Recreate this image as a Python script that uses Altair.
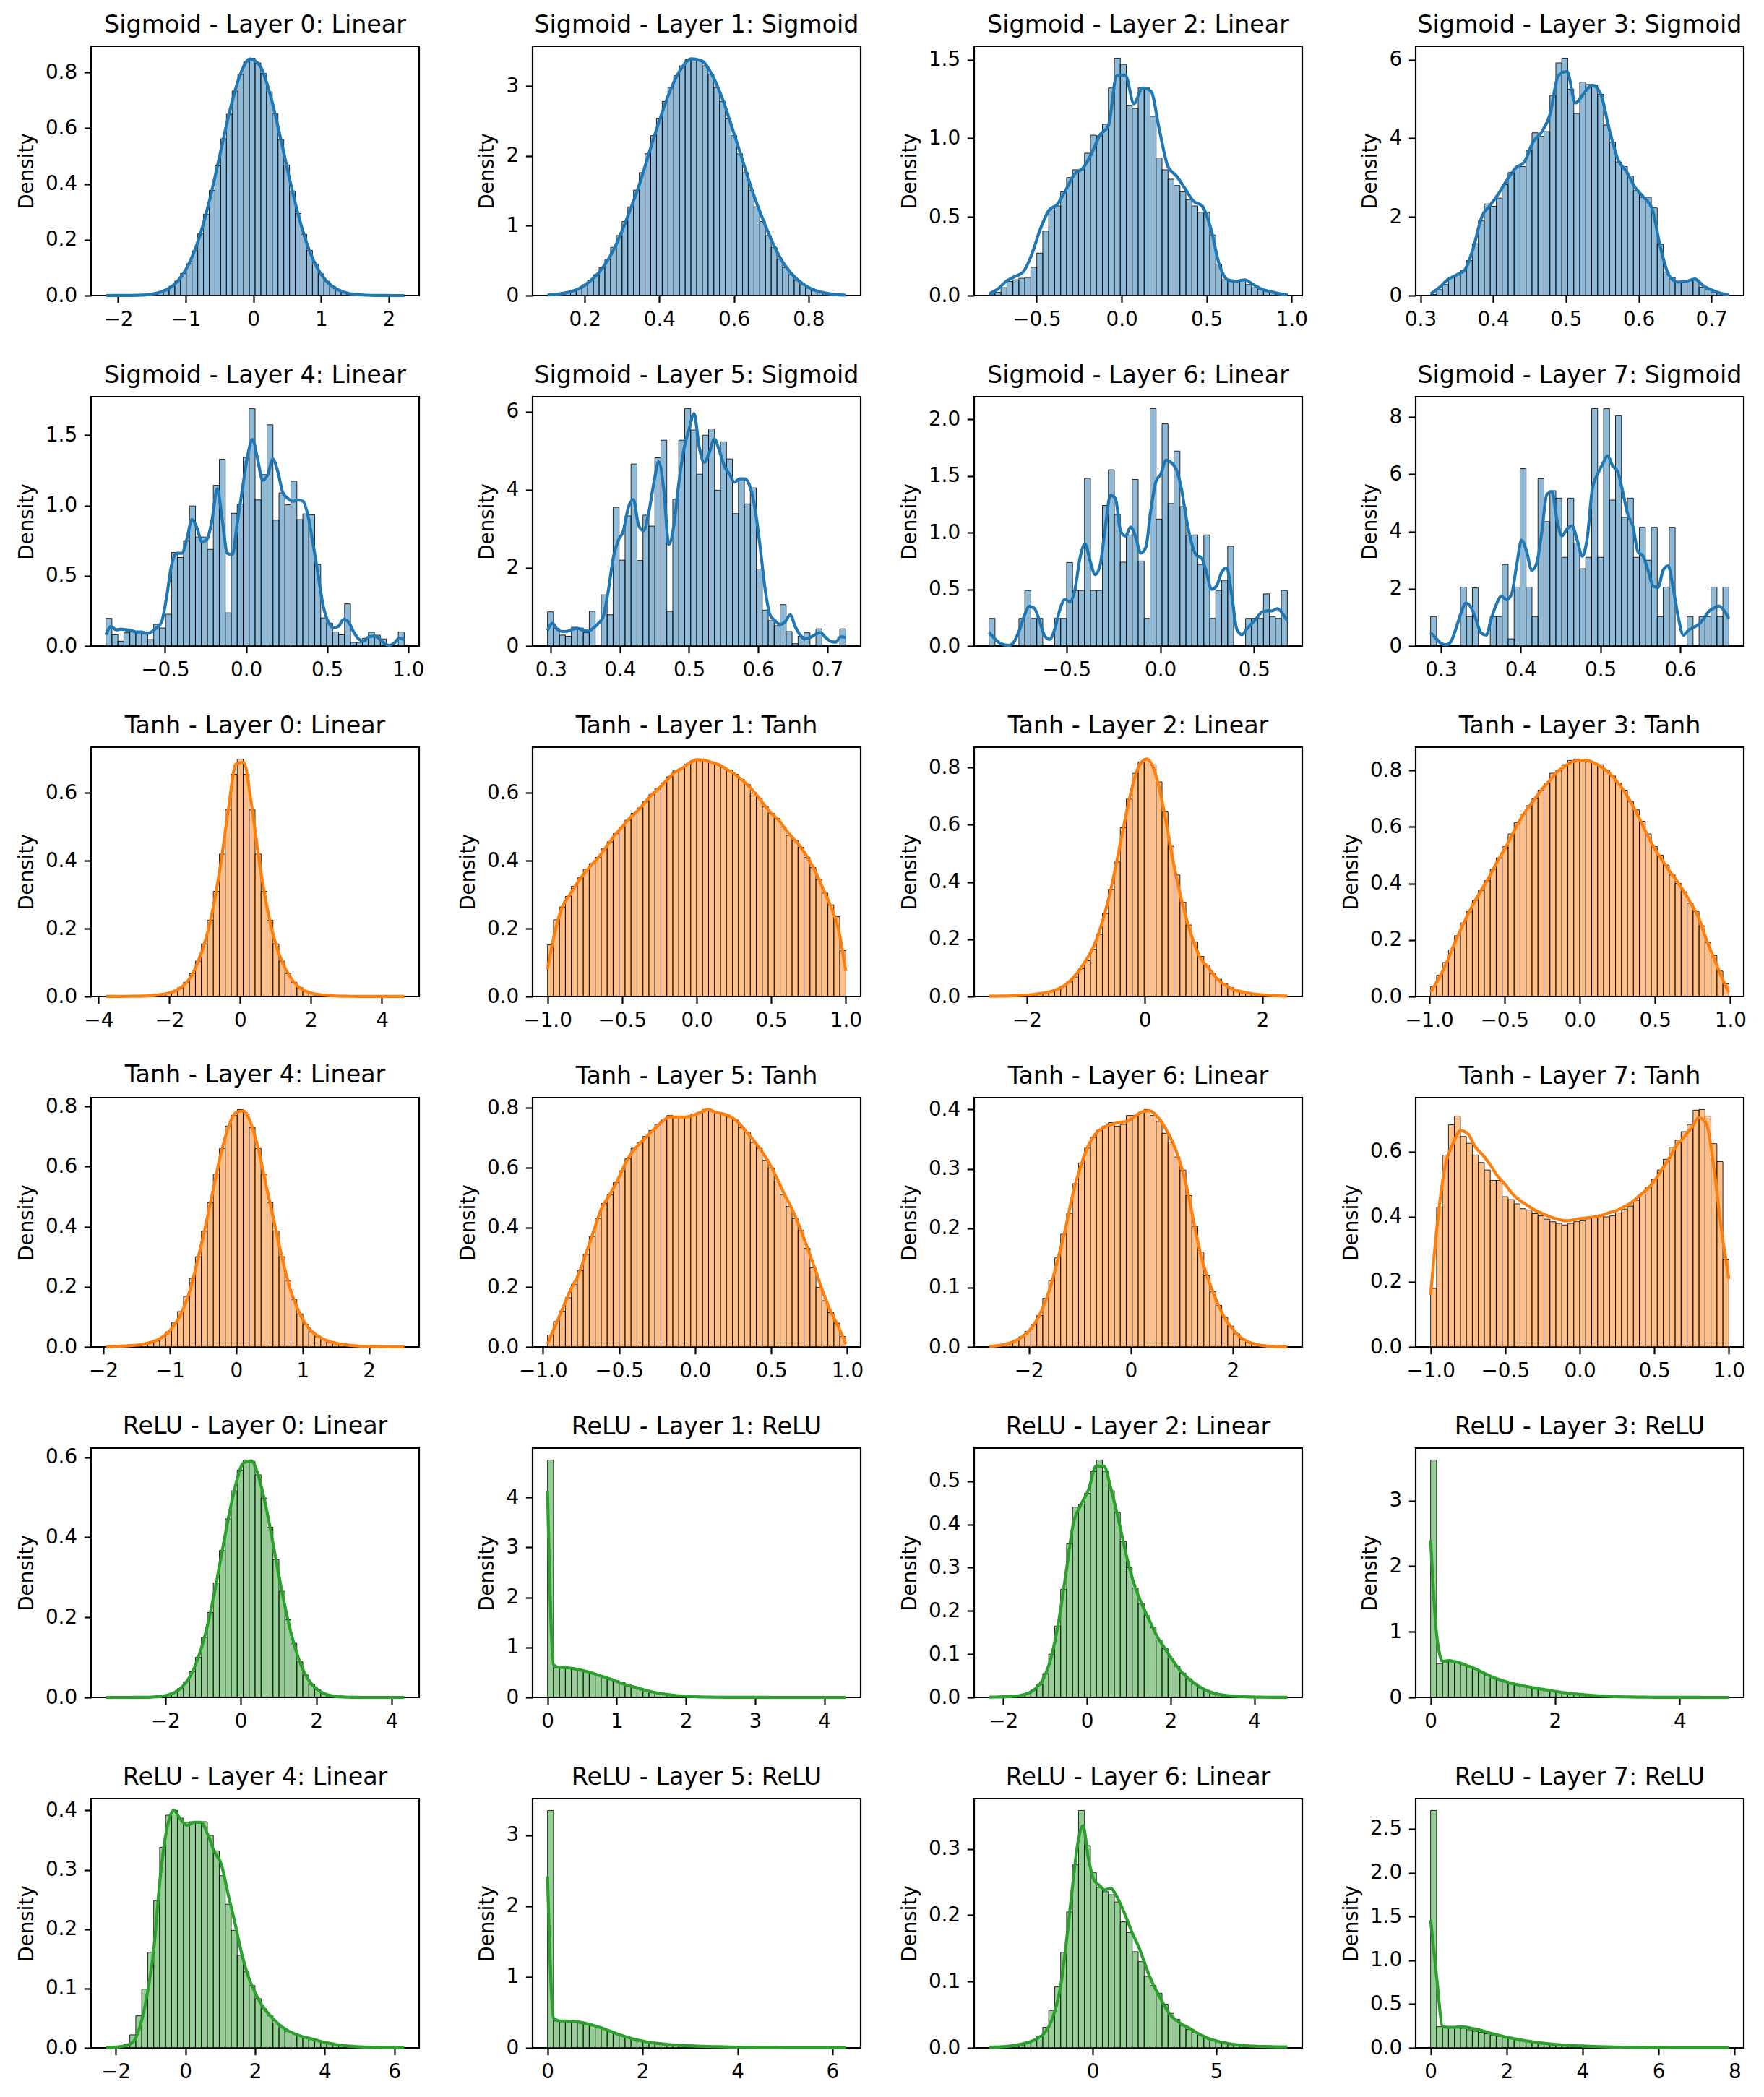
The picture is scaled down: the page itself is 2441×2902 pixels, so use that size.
import altair as alt
import pandas as pd

BLUE = "#1f77b4"
ORANGE = "#ff7f0e"
GREEN = "#2ca02c"
COLORS = [BLUE, ORANGE, GREEN]

TITLES = [
    "Sigmoid - Layer 0: Linear", "Sigmoid - Layer 1: Sigmoid", "Sigmoid - Layer 2: Linear", "Sigmoid - Layer 3: Sigmoid",
    "Sigmoid - Layer 4: Linear", "Sigmoid - Layer 5: Sigmoid", "Sigmoid - Layer 6: Linear", "Sigmoid - Layer 7: Sigmoid",
    "Tanh - Layer 0: Linear", "Tanh - Layer 1: Tanh", "Tanh - Layer 2: Linear", "Tanh - Layer 3: Tanh",
    "Tanh - Layer 4: Linear", "Tanh - Layer 5: Tanh", "Tanh - Layer 6: Linear", "Tanh - Layer 7: Tanh",
    "ReLU - Layer 0: Linear", "ReLU - Layer 1: ReLU", "ReLU - Layer 2: Linear", "ReLU - Layer 3: ReLU",
    "ReLU - Layer 4: Linear", "ReLU - Layer 5: ReLU", "ReLU - Layer 6: Linear", "ReLU - Layer 7: ReLU",
]

# ---------------- Sigmoid network ----------------
S0_RANGE = (-2.18, 2.23)
S0_BARS = [0.0003, 0.0005, 0.0006, 0.001, 0.0012, 0.002, 0.003, 0.005, 0.008, 0.013,
           0.021, 0.033, 0.052, 0.079, 0.114, 0.16, 0.222, 0.292, 0.377, 0.465,
           0.562, 0.65, 0.733, 0.793, 0.837, 0.851, 0.834, 0.796, 0.73, 0.652,
           0.559, 0.468, 0.375, 0.294, 0.22, 0.162, 0.113, 0.078, 0.051, 0.033,
           0.02, 0.013, 0.008, 0.005, 0.003, 0.002, 0.0012, 0.001, 0.0006, 0.0005,
           0.0003, 0.0003]
S0_KDE = [0.0, 0.0001, 0.0003, 0.001, 0.003, 0.009, 0.023, 0.053, 0.109, 0.2,
          0.331, 0.491, 0.656, 0.787, 0.848, 0.822, 0.716, 0.56, 0.394, 0.249,
          0.141, 0.072, 0.033, 0.014, 0.005, 0.002, 0.0005, 0.0001, 0.0, 0.0]

S1_RANGE = (0.10, 0.90)
S1_BARS = [0.01, 0.018, 0.03, 0.045, 0.07, 0.105, 0.155, 0.22, 0.30, 0.40,
           0.52, 0.69, 0.86, 1.06, 1.27, 1.51, 1.76, 2.03, 2.29, 2.54,
           2.78, 2.98, 3.15, 3.29, 3.38, 3.40, 3.36, 3.29, 3.17, 2.98,
           2.78, 2.54, 2.29, 2.03, 1.76, 1.51, 1.27, 1.06, 0.86, 0.69,
           0.52, 0.40, 0.30, 0.22, 0.155, 0.105, 0.07, 0.045, 0.03, 0.018,
           0.01, 0.006]
S1_KDE = [0.008, 0.02, 0.045, 0.095, 0.19, 0.33, 0.54, 0.84, 1.21, 1.62,
          2.10, 2.56, 2.96, 3.25, 3.39, 3.36, 3.16, 2.82, 2.38, 1.92,
          1.46, 1.07, 0.72, 0.45, 0.27, 0.15, 0.075, 0.035, 0.014, 0.005]

S2_RANGE = (-0.78, 0.975)
S2_BARS = [0.01, 0.02, 0.05, 0.09, 0.10, 0.11, 0.115, 0.18, 0.27, 0.41,
           0.545, 0.57, 0.66, 0.75, 0.80, 0.80, 0.905, 1.02, 1.015, 1.09,
           1.32, 1.51, 1.47, 1.21, 1.19, 1.32, 1.32, 1.14, 0.875, 0.80,
           0.74, 0.70, 0.66, 0.61, 0.57, 0.53, 0.53, 0.385, 0.20, 0.10,
           0.10, 0.095, 0.10, 0.07, 0.05, 0.04, 0.03, 0.02, 0.01, 0.01]
S2_KDE = [0.01, 0.04, 0.09, 0.12, 0.15, 0.26, 0.42, 0.54, 0.58, 0.67,
          0.77, 0.81, 0.90, 1.02, 1.08, 1.40, 1.40, 1.22, 1.32, 1.30,
          1.05, 0.82, 0.76, 0.68, 0.60, 0.57, 0.43, 0.20, 0.10, 0.09,
          0.10, 0.07, 0.04, 0.025, 0.012, 0.004]

S3_RANGE = (0.314, 0.724)
S3_BARS = [0.03, 0.15, 0.28, 0.46, 0.52, 0.64, 0.89, 1.32, 1.9, 2.33,
           2.27, 2.48, 2.82, 3.13, 3.25, 3.28, 3.68, 4.14, 4.05, 4.17,
           5.09, 5.92, 6.04, 5.25, 4.63, 5.43, 5.37, 5.35, 5.12, 4.34,
           3.9, 3.40, 3.28, 3.04, 2.67, 2.5, 2.5, 2.23, 1.3, 0.6,
           0.46, 0.35, 0.35, 0.38, 0.40, 0.21, 0.15, 0.09, 0.06, 0.03]
S3_KDE = [0.04, 0.2, 0.4, 0.52, 0.65, 1.2, 2.0, 2.3, 2.6, 2.95,
          3.25, 3.4, 3.9, 4.15, 4.6, 5.6, 5.7, 4.9, 5.15, 5.35,
          5.1, 4.2, 3.45, 3.15, 2.75, 2.5, 2.2, 1.2, 0.5, 0.34,
          0.36, 0.42, 0.25, 0.14, 0.06, 0.02]

S4_RANGE = (-0.865, 0.976)
S4_BARS = [0.197, 0.08, 0.034, 0.094, 0.10, 0.10, 0.10, 0.046, 0.154, 0.128,
           0.226, 0.666, 0.63, 0.75, 0.997, 0.776, 0.776, 0.688, 1.144, 1.33,
           0.236, 0.945, 1.01, 1.342, 1.69, 1.04, 1.22, 1.575, 0.896, 1.09,
           1.005, 1.173, 0.90, 0.94, 0.933, 0.58, 0.20, 0.163, 0.10, 0.08,
           0.30, 0.026, 0.026, 0.055, 0.098, 0.077, 0.05, 0.005, 0.0, 0.10]
S4_KDE = [0.08, 0.14, 0.115, 0.12, 0.115, 0.11, 0.10, 0.10, 0.09, 0.10,
          0.13, 0.17, 0.35, 0.58, 0.66, 0.66, 0.76, 0.90, 0.84, 0.74,
          0.76, 0.90, 1.12, 0.90, 0.66, 0.65, 0.88, 1.12, 1.35, 1.47,
          1.33, 1.18, 1.22, 1.33, 1.24, 1.09, 1.05, 1.03, 1.04, 1.03,
          0.92, 0.72, 0.50, 0.28, 0.17, 0.13, 0.14, 0.19, 0.17, 0.10,
          0.05, 0.035, 0.065, 0.07, 0.055, 0.02, 0.005, 0.02, 0.055, 0.045]

S5_RANGE = (0.295, 0.727)
S5_BARS = [0.875, 0.45, 0.28, 0.25, 0.48, 0.46, 0.34, 0.89, 0.02, 1.31,
           0.80, 3.55, 2.2, 3.33, 4.66, 2.19, 3.35, 3.07, 4.82, 5.27,
           0.89, 3.76, 5.27, 6.08, 5.53, 4.4, 5.4, 5.56, 3.99, 5.23,
           4.79, 3.39, 4.29, 3.64, 4.05, 1.97, 0.92, 0.65, 0.52, 1.06,
           0.37, 0.06, 0.25, 0.34, 0.02, 0.44, 0.02, 0.0, 0.0, 0.44]
S5_KDE = [0.40, 0.58, 0.42, 0.37, 0.38, 0.43, 0.45, 0.40, 0.38, 0.45,
          0.57, 0.75, 1.39, 2.25, 2.70, 2.95, 3.55, 3.75, 3.1, 2.95,
          3.4, 4.15, 4.72, 4.0, 2.6, 3.1, 4.2, 5.05, 5.55, 5.95,
          5.1, 4.7, 4.95, 5.3, 5.0, 4.6, 4.4, 4.2, 4.28, 4.28,
          4.1, 3.55, 2.6, 1.5, 0.8, 0.65, 0.55, 0.62, 0.80, 0.5,
          0.28, 0.18, 0.22, 0.30, 0.34, 0.22, 0.12, 0.10, 0.24, 0.22]

S6_RANGE = (-0.913, 0.677)
S6_BARS = [0.244, 0, 0, 0, 0, 0.244, 0.49, 0.244, 0.244, 0,
           0, 0.244, 0.244, 0.737, 0.49, 0.49, 1.48, 0.49, 0.49, 1.24,
           1.555, 1.16, 0.74, 0.98, 1.47, 0.75, 0.244, 2.095, 1.12, 1.96,
           1.257, 1.72, 1.23, 0.98, 0.98, 0.72, 0.98, 0.244, 0.49, 0.58,
           0.88, 0, 0, 0.244, 0.244, 0.244, 0.46, 0.26, 0.244, 0.49]
S6_KDE = [0.12, 0.07, 0.03, 0.01, 0.006, 0.04, 0.14, 0.27, 0.35, 0.33,
          0.22, 0.09, 0.06, 0.15, 0.32, 0.41, 0.39, 0.50, 0.78, 0.90,
          0.75, 0.63, 0.72, 1.05, 1.33, 1.30, 1.02, 0.97, 1.05, 0.96,
          0.82, 0.87, 1.2, 1.45, 1.52, 1.64, 1.62, 1.56, 1.4, 1.13,
          0.92, 0.80, 0.78, 0.65, 0.50, 0.53, 0.65, 0.69, 0.45, 0.15,
          0.10, 0.15, 0.2, 0.25, 0.30, 0.31, 0.31, 0.33, 0.29, 0.22]

S7_RANGE = (0.287, 0.661)
S7_BARS = [1.03, 0, 0, 0, 0, 2.06, 1.03, 2.03, 0, 0,
           1.03, 1.03, 2.85, 0.25, 2.06, 6.2, 2.06, 1.03, 5.85, 4.35,
           5.43, 5.17, 3.1, 5.17, 3.6, 2.7, 3.1, 8.3, 3.1, 8.3,
           5.1, 8.05, 4.5, 5.17, 3.1, 4.15, 3.0, 4.15, 1.03, 2.06,
           4.15, 0, 0, 1.03, 0, 1.03, 1.03, 2.06, 1.03, 2.06]
S7_KDE = [0.47, 0.28, 0.10, 0.04, 0.15, 0.60, 1.15, 1.50, 1.35, 0.92,
          0.45, 0.38, 0.95, 1.45, 1.74, 1.62, 1.8, 2.8, 3.7, 3.3,
          2.65, 2.9, 4.0, 5.3, 5.4, 4.4, 3.85, 4.1, 4.2, 3.7,
          3.14, 3.8, 5.5, 6.0, 6.35, 6.65, 6.3, 6.1, 5.4, 4.6,
          4.2, 3.3, 3.15, 2.65, 2.1, 2.05, 2.65, 2.8, 2.0, 1.0,
          0.38, 0.55, 0.65, 0.75, 0.95, 1.2, 1.32, 1.40, 1.25, 0.97]

# ---------------- Tanh network ----------------
T0_RANGE = (-3.79, 4.63)
T0_BARS = [0.0001, 0.0002, 0.0003, 0.0005, 0.0007, 0.001, 0.0015, 0.0025, 0.004, 0.006,
           0.01, 0.016, 0.026, 0.042, 0.067, 0.104, 0.155, 0.225, 0.31, 0.42,
           0.55, 0.655, 0.70, 0.655, 0.55, 0.42, 0.31, 0.225, 0.155, 0.104,
           0.067, 0.042, 0.026, 0.016, 0.01, 0.006, 0.004, 0.0025, 0.0015, 0.001,
           0.0007, 0.0005, 0.0003, 0.0002, 0.0001, 0.0001, 0.0001, 0.0001, 0.0001, 0.0001]
T0_KDE = [0.0002, 0.0002, 0.0003, 0.0005, 0.0008, 0.0014, 0.0025, 0.005, 0.009, 0.016,
          0.03, 0.055, 0.10, 0.165, 0.26, 0.39, 0.55, 0.685, 0.69, 0.57,
          0.405, 0.27, 0.17, 0.105, 0.06, 0.032, 0.017, 0.009, 0.005, 0.003,
          0.0016, 0.0009, 0.0005, 0.0003, 0.0002, 0.0001, 0.0001, 0.0001, 0.0001, 0.0001]

T1_RANGE = (-1.0, 1.0)
T1_BARS = [0.152, 0.226, 0.264, 0.295, 0.325, 0.35, 0.375, 0.392, 0.41, 0.435,
           0.456, 0.48, 0.50, 0.52, 0.54, 0.556, 0.575, 0.595, 0.612, 0.63,
           0.648, 0.665, 0.672, 0.685, 0.695, 0.70, 0.695, 0.69, 0.685, 0.675,
           0.668, 0.655, 0.64, 0.625, 0.60, 0.585, 0.56, 0.54, 0.525, 0.50,
           0.475, 0.46, 0.44, 0.41, 0.38, 0.345, 0.305, 0.27, 0.235, 0.135]
T1_KDE = [0.08, 0.19, 0.265, 0.30, 0.335, 0.365, 0.39, 0.415, 0.445, 0.475,
          0.50, 0.525, 0.545, 0.57, 0.595, 0.615, 0.638, 0.66, 0.672, 0.688,
          0.698, 0.697, 0.69, 0.683, 0.67, 0.657, 0.64, 0.62, 0.595, 0.567,
          0.54, 0.52, 0.49, 0.465, 0.44, 0.405, 0.365, 0.315, 0.265, 0.2,
          0.075]

T2_RANGE = (-2.64, 2.42)
T2_BARS = [0.001, 0.0012, 0.0015, 0.002, 0.003, 0.0045, 0.006, 0.008, 0.010, 0.014,
           0.018, 0.025, 0.036, 0.051, 0.068, 0.097, 0.125, 0.165, 0.217, 0.29,
           0.375, 0.47, 0.59, 0.69, 0.78, 0.82, 0.83, 0.81, 0.75, 0.645,
           0.525, 0.425, 0.33, 0.25, 0.19, 0.14, 0.11, 0.08, 0.06, 0.045,
           0.031, 0.022, 0.016, 0.011, 0.009, 0.007, 0.005, 0.0035, 0.0025, 0.0018]
T2_KDE = [0.001, 0.0012, 0.0017, 0.0027, 0.0045, 0.007, 0.011, 0.017, 0.028, 0.048,
          0.08, 0.124, 0.18, 0.27, 0.39, 0.54, 0.69, 0.80, 0.83, 0.775,
          0.64, 0.47, 0.33, 0.22, 0.14, 0.10, 0.062, 0.038, 0.023, 0.015,
          0.0095, 0.006, 0.0037, 0.0023, 0.0014]

T3_RANGE = (-0.99, 0.99)
T3_BARS = [0.035, 0.075, 0.12, 0.165, 0.215, 0.26, 0.30, 0.34, 0.375, 0.41,
           0.45, 0.49, 0.53, 0.575, 0.615, 0.645, 0.675, 0.70, 0.73, 0.755,
           0.79, 0.80, 0.82, 0.835, 0.84, 0.835, 0.83, 0.825, 0.82, 0.80,
           0.78, 0.755, 0.73, 0.69, 0.66, 0.62, 0.575, 0.53, 0.50, 0.465,
           0.43, 0.40, 0.37, 0.33, 0.30, 0.25, 0.19, 0.145, 0.09, 0.045]
T3_KDE = [0.015, 0.06, 0.11, 0.175, 0.235, 0.29, 0.34, 0.385, 0.43, 0.48,
          0.525, 0.575, 0.625, 0.665, 0.70, 0.735, 0.765, 0.795, 0.815, 0.83,
          0.835, 0.835, 0.825, 0.81, 0.79, 0.76, 0.725, 0.68, 0.63, 0.575,
          0.525, 0.485, 0.445, 0.41, 0.37, 0.325, 0.275, 0.20, 0.135, 0.07,
          0.015]

T4_RANGE = (-1.96, 2.53)
T4_BARS = [0.001, 0.0015, 0.002, 0.003, 0.005, 0.007, 0.01, 0.014, 0.02, 0.03,
           0.05, 0.08, 0.118, 0.168, 0.228, 0.30, 0.385, 0.48, 0.575, 0.66,
           0.735, 0.77, 0.79, 0.775, 0.73, 0.66, 0.575, 0.48, 0.386, 0.30,
           0.221, 0.158, 0.11, 0.075, 0.05, 0.034, 0.024, 0.017, 0.012, 0.008,
           0.006, 0.004, 0.003, 0.002, 0.0015, 0.001, 0.0008, 0.0005, 0.0004, 0.0003]
T4_KDE = [0.001, 0.0015, 0.0025, 0.004, 0.006, 0.01, 0.016, 0.027, 0.045, 0.075,
          0.12, 0.19, 0.29, 0.40, 0.52, 0.64, 0.73, 0.78, 0.785, 0.74,
          0.65, 0.53, 0.415, 0.30, 0.20, 0.13, 0.08, 0.05, 0.032, 0.02,
          0.013, 0.008, 0.005, 0.003, 0.002, 0.0013, 0.0009, 0.0006, 0.0004, 0.0003]

T5_RANGE = (-0.97, 0.99)
T5_BARS = [0.04, 0.085, 0.12, 0.165, 0.21, 0.255, 0.31, 0.37, 0.43, 0.48,
           0.51, 0.55, 0.59, 0.63, 0.665, 0.685, 0.705, 0.725, 0.745, 0.76,
           0.775, 0.77, 0.77, 0.77, 0.78, 0.785, 0.795, 0.79, 0.785, 0.78,
           0.77, 0.76, 0.735, 0.72, 0.685, 0.665, 0.625, 0.60, 0.555, 0.51,
           0.47, 0.43, 0.39, 0.33, 0.265, 0.20, 0.155, 0.115, 0.08, 0.035]
T5_KDE = [0.01, 0.07, 0.13, 0.19, 0.24, 0.31, 0.385, 0.46, 0.505, 0.55,
          0.605, 0.65, 0.68, 0.705, 0.73, 0.755, 0.77, 0.77, 0.77, 0.775,
          0.785, 0.795, 0.785, 0.78, 0.77, 0.75, 0.72, 0.69, 0.655, 0.615,
          0.565, 0.51, 0.46, 0.40, 0.33, 0.26, 0.185, 0.12, 0.07, 0.01]

T6_RANGE = (-2.78, 3.07)
T6_BARS = [0.001, 0.002, 0.004, 0.007, 0.011, 0.017, 0.026, 0.038, 0.053, 0.082,
           0.112, 0.15, 0.19, 0.225, 0.275, 0.31, 0.335, 0.353, 0.365, 0.372,
           0.378, 0.372, 0.375, 0.39, 0.39, 0.395, 0.40, 0.39, 0.38, 0.36,
           0.345, 0.32, 0.298, 0.255, 0.203, 0.16, 0.12, 0.093, 0.07, 0.05,
           0.035, 0.022, 0.013, 0.008, 0.005, 0.003, 0.002, 0.001, 0.0006, 0.0004]
T6_KDE = [0.001, 0.002, 0.004, 0.008, 0.014, 0.024, 0.04, 0.065, 0.10, 0.148,
          0.20, 0.26, 0.305, 0.34, 0.36, 0.37, 0.375, 0.378, 0.38, 0.388,
          0.396, 0.398, 0.388, 0.37, 0.345, 0.31, 0.26, 0.195, 0.14, 0.102,
          0.07, 0.045, 0.028, 0.015, 0.008, 0.004, 0.002, 0.001, 0.0005, 0.0003]

T7_RANGE = (-1.0, 1.0)
T7_BARS = [0.18, 0.43, 0.59, 0.683, 0.71, 0.647, 0.626, 0.59, 0.567, 0.544,
           0.512, 0.512, 0.462, 0.453, 0.44, 0.425, 0.421, 0.41, 0.403, 0.393,
           0.385, 0.38, 0.375, 0.38, 0.385, 0.388, 0.394, 0.397, 0.403, 0.40,
           0.403, 0.412, 0.424, 0.433, 0.451, 0.47, 0.49, 0.514, 0.544, 0.577,
           0.614, 0.636, 0.662, 0.684, 0.728, 0.73, 0.71, 0.625, 0.57, 0.27]
T7_KDE = [0.16, 0.40, 0.56, 0.625, 0.665, 0.655, 0.615, 0.59, 0.56, 0.525,
          0.50, 0.47, 0.45, 0.435, 0.42, 0.41, 0.40, 0.393, 0.388, 0.39,
          0.394, 0.397, 0.40, 0.405, 0.413, 0.42, 0.432, 0.445, 0.465, 0.485,
          0.51, 0.545, 0.58, 0.62, 0.645, 0.675, 0.705, 0.685, 0.55, 0.36,
          0.21]

# ---------------- ReLU network ----------------
R0_RANGE = (-3.57, 4.33)
R0_BARS = [0.0001, 0.0, 0.00001, 0.00003, 0.00004, 0.0001, 0.0003, 0.0007, 0.0015, 0.003,
           0.0063, 0.012, 0.022, 0.039, 0.064, 0.100, 0.150, 0.212, 0.286, 0.367,
           0.446, 0.516, 0.568, 0.593, 0.589, 0.556, 0.498, 0.425, 0.344, 0.265,
           0.194, 0.135, 0.089, 0.056, 0.033, 0.019, 0.010, 0.005, 0.0025, 0.0012,
           0.0005, 0.0002, 0.0001, 0.0001, 0.0001, 0.0001, 0.0001, 0.0, 0.0, 0.0001]
R0_KDE = [0.0, 0.0, 0.0, 0.00002, 0.0001, 0.0003, 0.0008, 0.0021, 0.0054, 0.0124,
          0.0267, 0.0526, 0.0955, 0.159, 0.244, 0.345, 0.447, 0.534, 0.586, 0.591,
          0.549, 0.469, 0.368, 0.265, 0.176, 0.1075, 0.06, 0.031, 0.0148, 0.0065,
          0.0026, 0.001, 0.0004, 0.00015, 0.0, 0.0, 0.0, 0.0, 0.0, 0.0]

R1_RANGE = (0.0, 4.31)
R1_BARS = [4.75, 0.592, 0.595, 0.589, 0.574, 0.551, 0.52, 0.486, 0.446, 0.42,
           0.375, 0.335, 0.295, 0.255, 0.215, 0.178, 0.143, 0.113, 0.088, 0.068,
           0.051, 0.038, 0.028, 0.02, 0.014, 0.01, 0.007, 0.0048, 0.0033, 0.0022,
           0.0014, 0.0009, 0.0006, 0.0004, 0.0003, 0.0002, 0.0001, 0.0001, 0.0001, 0.0001,
           0.0001, 0.0001, 0.0001, 0.0001, 0.0001, 0.0001, 0.0001, 0.0001, 0.0001, 0.0001]
R1_KDE = [4.13, 0.65, 0.60, 0.595, 0.58, 0.56, 0.53, 0.50, 0.46, 0.42,
          0.38, 0.335, 0.29, 0.25, 0.215, 0.18, 0.145, 0.115, 0.09, 0.07,
          0.053, 0.04, 0.029, 0.021, 0.015, 0.01, 0.007, 0.005, 0.0035, 0.0025,
          0.0017, 0.0012, 0.0009, 0.0007, 0.0005, 0.0004, 0.0004, 0.0003, 0.0003, 0.0003,
          0.0002, 0.0002, 0.0002, 0.0002, 0.0001, 0.0001, 0.0001, 0.0001, 0.0001, 0.0001]

R2_RANGE = (-2.34, 4.79)
R2_BARS = [0.0005, 0.0008, 0.0012, 0.002, 0.003, 0.005, 0.009, 0.017, 0.030, 0.055,
           0.10, 0.165, 0.25, 0.355, 0.44, 0.447, 0.472, 0.522, 0.549, 0.523,
           0.478, 0.428, 0.36, 0.30, 0.253, 0.217, 0.189, 0.161, 0.133, 0.113,
           0.091, 0.072, 0.056, 0.043, 0.032, 0.022, 0.016, 0.011, 0.007, 0.005,
           0.0035, 0.0025, 0.0017, 0.0011, 0.0008, 0.0005, 0.0003, 0.0002, 0.0002, 0.0001]
R2_KDE = [0.0004, 0.0008, 0.0013, 0.0023, 0.004, 0.009, 0.019, 0.04, 0.085, 0.165,
          0.28, 0.40, 0.445, 0.48, 0.535, 0.535, 0.478, 0.405, 0.325, 0.26,
          0.215, 0.177, 0.14, 0.113, 0.086, 0.062, 0.045, 0.031, 0.02, 0.012,
          0.007, 0.0045, 0.0028, 0.0018, 0.0011, 0.0007, 0.0004, 0.0003, 0.0002, 0.0001]

R3_RANGE = (0.0, 4.79)
R3_BARS = [3.62, 0.515, 0.54, 0.549, 0.525, 0.498, 0.468, 0.432, 0.385, 0.34,
           0.303, 0.27, 0.241, 0.218, 0.197, 0.178, 0.16, 0.142, 0.126, 0.113,
           0.098, 0.084, 0.071, 0.06, 0.05, 0.042, 0.035, 0.028, 0.023, 0.018,
           0.014, 0.011, 0.0085, 0.0065, 0.005, 0.004, 0.003, 0.0024, 0.0019, 0.0014,
           0.0011, 0.0008, 0.0006, 0.0005, 0.0004, 0.0003, 0.0002, 0.0002, 0.0001, 0.0001]
R3_KDE = [2.40, 0.95, 0.55, 0.56, 0.545, 0.52, 0.485, 0.45, 0.405, 0.36,
          0.315, 0.28, 0.25, 0.222, 0.2, 0.18, 0.162, 0.145, 0.128, 0.114,
          0.099, 0.085, 0.071, 0.06, 0.05, 0.042, 0.034, 0.027, 0.021, 0.017,
          0.013, 0.01, 0.008, 0.006, 0.0045, 0.0035, 0.0027, 0.002, 0.0015, 0.0012,
          0.0009, 0.0007, 0.0005, 0.0004, 0.0003, 0.0002, 0.0002, 0.0001, 0.0001, 0.0001]

R4_RANGE = (-2.28, 6.28)
R4_BARS = [0.0004, 0.0008, 0.002, 0.0065, 0.022, 0.054, 0.099, 0.161, 0.248, 0.338,
           0.392, 0.40, 0.387, 0.38, 0.381, 0.38, 0.381, 0.358, 0.332, 0.29,
           0.242, 0.198, 0.156, 0.128, 0.105, 0.083, 0.066, 0.054, 0.042, 0.034,
           0.028, 0.024, 0.02, 0.0175, 0.015, 0.012, 0.01, 0.008, 0.006, 0.005,
           0.0035, 0.0028, 0.002, 0.0015, 0.001, 0.0008, 0.0005, 0.0004, 0.0003, 0.0002]
R4_KDE = [0.0005, 0.001, 0.002, 0.004, 0.01, 0.035, 0.085, 0.16, 0.287, 0.37,
          0.40, 0.385, 0.375, 0.38, 0.38, 0.36, 0.33, 0.31, 0.26, 0.212,
          0.16, 0.12, 0.093, 0.072, 0.057, 0.045, 0.035, 0.028, 0.023, 0.019,
          0.016, 0.013, 0.01, 0.0075, 0.0055, 0.004, 0.0028, 0.002, 0.0014, 0.001,
          0.0007, 0.0005, 0.0004, 0.0003, 0.0002]

R5_RANGE = (0.0, 6.28)
R5_BARS = [3.35, 0.38, 0.38, 0.38, 0.372, 0.36, 0.34, 0.322, 0.30, 0.267,
           0.235, 0.203, 0.172, 0.145, 0.122, 0.102, 0.087, 0.073, 0.062, 0.054,
           0.046, 0.04, 0.034, 0.03, 0.026, 0.023, 0.02, 0.018, 0.016, 0.014,
           0.012, 0.01, 0.0085, 0.007, 0.0057, 0.0046, 0.0037, 0.003, 0.0025, 0.002,
           0.0017, 0.0014, 0.0011, 0.0009, 0.0007, 0.0006, 0.0005, 0.0004, 0.0003, 0.0002]
R5_KDE = [2.42, 0.42, 0.38, 0.38, 0.375, 0.365, 0.35, 0.33, 0.305, 0.278,
          0.245, 0.212, 0.18, 0.152, 0.127, 0.106, 0.089, 0.075, 0.063, 0.054,
          0.046, 0.04, 0.034, 0.03, 0.026, 0.023, 0.02, 0.018, 0.016, 0.014,
          0.012, 0.01, 0.0085, 0.007, 0.0057, 0.0046, 0.0037, 0.003, 0.0025, 0.002,
          0.0017, 0.0014, 0.0011, 0.0009, 0.0007, 0.0006, 0.0005, 0.0004, 0.0003, 0.0002]

R6_RANGE = (-4.19, 7.87)
R6_BARS = [0.0003, 0.0005, 0.0009, 0.0015, 0.0025, 0.0043, 0.007, 0.011, 0.018, 0.031,
           0.0565, 0.092, 0.144, 0.205, 0.276, 0.358, 0.305, 0.264, 0.242, 0.2355,
           0.231, 0.22, 0.19, 0.174, 0.145, 0.13, 0.108, 0.094, 0.0826, 0.066,
           0.052, 0.043, 0.034, 0.028, 0.0235, 0.019, 0.0156, 0.012, 0.0094, 0.0072,
           0.0058, 0.0043, 0.0033, 0.0025, 0.0018, 0.0013, 0.001, 0.0008, 0.0005, 0.0004]
R6_KDE = [0.001, 0.0012, 0.0015, 0.002, 0.003, 0.0042, 0.006, 0.008, 0.011, 0.0156,
          0.022, 0.035, 0.058, 0.095, 0.16, 0.235, 0.305, 0.335, 0.285, 0.253,
          0.245, 0.238, 0.241, 0.23, 0.213, 0.193, 0.172, 0.154, 0.132, 0.109,
          0.091, 0.075, 0.06, 0.048, 0.041, 0.035, 0.031, 0.026, 0.021, 0.017,
          0.013, 0.011, 0.0085, 0.007, 0.0055, 0.0045, 0.0037, 0.003, 0.0025, 0.0022,
          0.002, 0.0018, 0.0016, 0.0015, 0.0014]

R7_RANGE = (0.0, 7.85)
R7_BARS = [2.71, 0.242, 0.238, 0.235, 0.231, 0.224, 0.207, 0.189, 0.178, 0.16,
           0.143, 0.132, 0.115, 0.103, 0.095, 0.086, 0.076, 0.066, 0.057, 0.049,
           0.042, 0.035, 0.031, 0.027, 0.024, 0.021, 0.018, 0.016, 0.0135, 0.0115,
           0.0098, 0.0082, 0.0068, 0.006, 0.005, 0.0042, 0.0035, 0.0029, 0.0024, 0.002,
           0.0016, 0.0013, 0.0011, 0.0009, 0.0008, 0.0006, 0.0005, 0.0004, 0.0003, 0.0003]
R7_KDE = [1.46, 0.8, 0.24, 0.235, 0.235, 0.24, 0.235, 0.22, 0.205, 0.185,
          0.165, 0.148, 0.13, 0.115, 0.101, 0.088, 0.077, 0.066, 0.057, 0.049,
          0.042, 0.036, 0.031, 0.027, 0.024, 0.021, 0.018, 0.016, 0.0135, 0.0115,
          0.0098, 0.0083, 0.007, 0.006, 0.005, 0.0042, 0.0035, 0.0029, 0.0024, 0.002,
          0.0016, 0.0013, 0.0011, 0.0009, 0.0008, 0.0006, 0.0005, 0.0004, 0.0003, 0.0003]

# ---------------- tick labels ----------------
X_TICKS = [
    [-2, -1, 0, 1, 2], [0.2, 0.4, 0.6, 0.8], [-0.5, 0, 0.5, 1.0], [0.3, 0.4, 0.5, 0.6, 0.7],
    [-0.5, 0, 0.5, 1.0], [0.3, 0.4, 0.5, 0.6, 0.7], [-0.5, 0, 0.5], [0.3, 0.4, 0.5, 0.6],
    [-4, -2, 0, 2, 4], [-1, -0.5, 0, 0.5, 1], [-2, 0, 2], [-1, -0.5, 0, 0.5, 1],
    [-2, -1, 0, 1, 2], [-1, -0.5, 0, 0.5, 1], [-2, 0, 2], [-1, -0.5, 0, 0.5, 1],
    [-2, 0, 2, 4], [0, 1, 2, 3, 4], [-2, 0, 2, 4], [0, 2, 4],
    [-2, 0, 2, 4, 6], [0, 2, 4, 6], [0, 5], [0, 2, 4, 6, 8],
]
X_FMT = ["d", ".1f", ".1f", ".1f", ".1f", ".1f", ".1f", ".1f",
         "d", ".1f", "d", ".1f", "d", ".1f", "d", ".1f",
         "d", "d", "d", "d", "d", "d", "d", "d"]
Y_TICKS = [
    [0, 0.2, 0.4, 0.6, 0.8], [0, 1, 2, 3], [0, 0.5, 1, 1.5], [0, 2, 4, 6],
    [0, 0.5, 1, 1.5], [0, 2, 4, 6], [0, 0.5, 1, 1.5, 2], [0, 2, 4, 6, 8],
    [0, 0.2, 0.4, 0.6], [0, 0.2, 0.4, 0.6], [0, 0.2, 0.4, 0.6, 0.8], [0, 0.2, 0.4, 0.6, 0.8],
    [0, 0.2, 0.4, 0.6, 0.8], [0, 0.2, 0.4, 0.6, 0.8], [0, 0.1, 0.2, 0.3, 0.4], [0, 0.2, 0.4, 0.6],
    [0, 0.2, 0.4, 0.6], [0, 1, 2, 3, 4], [0, 0.1, 0.2, 0.3, 0.4, 0.5], [0, 1, 2, 3],
    [0, 0.1, 0.2, 0.3, 0.4], [0, 1, 2, 3], [0, 0.1, 0.2, 0.3], [0, 0.5, 1, 1.5, 2, 2.5],
]
Y_FMT = [".1f", "d", ".1f", "d", ".1f", "d", ".1f", "d",
         ".1f", ".1f", ".1f", ".1f", ".1f", ".1f", ".1f", ".1f",
         ".1f", "d", ".1f", "d", ".1f", "d", ".1f", ".1f"]

RANGES = [S0_RANGE, S1_RANGE, S2_RANGE, S3_RANGE, S4_RANGE, S5_RANGE, S6_RANGE, S7_RANGE,
          T0_RANGE, T1_RANGE, T2_RANGE, T3_RANGE, T4_RANGE, T5_RANGE, T6_RANGE, T7_RANGE,
          R0_RANGE, R1_RANGE, R2_RANGE, R3_RANGE, R4_RANGE, R5_RANGE, R6_RANGE, R7_RANGE]
BARS = [S0_BARS, S1_BARS, S2_BARS, S3_BARS, S4_BARS, S5_BARS, S6_BARS, S7_BARS,
        T0_BARS, T1_BARS, T2_BARS, T3_BARS, T4_BARS, T5_BARS, T6_BARS, T7_BARS,
        R0_BARS, R1_BARS, R2_BARS, R3_BARS, R4_BARS, R5_BARS, R6_BARS, R7_BARS]
KDES = [S0_KDE, S1_KDE, S2_KDE, S3_KDE, S4_KDE, S5_KDE, S6_KDE, S7_KDE,
        T0_KDE, T1_KDE, T2_KDE, T3_KDE, T4_KDE, T5_KDE, T6_KDE, T7_KDE,
        R0_KDE, R1_KDE, R2_KDE, R3_KDE, R4_KDE, R5_KDE, R6_KDE, R7_KDE]

PLOT_W = 454
PLOT_H = 345


def panel(i):
    lo, hi = RANGES[i]
    bars = BARS[i]
    kde = KDES[i]
    n = len(bars)
    w = (hi - lo) / n
    bdf = pd.DataFrame({
        "x0": [lo + k * w for k in range(n)],
        "x1": [lo + (k + 1) * w for k in range(n)],
        "d": bars,
    })
    m = len(kde)
    kdf = pd.DataFrame({"x": [lo + (hi - lo) * k / (m - 1) for k in range(m)], "d": kde})
    span = hi - lo
    xs = alt.Scale(domain=[lo - 0.05 * span, hi + 0.05 * span], nice=False, zero=False)
    ys = alt.Scale(domain=[0, 1.05 * max(max(bars), max(kde))], nice=False, zero=False)
    xa = alt.Axis(values=X_TICKS[i], format=X_FMT[i], title=None)
    ya = alt.Axis(values=Y_TICKS[i], format=Y_FMT[i], title="Density")
    color = COLORS[i // 8]
    bar = alt.Chart(bdf).mark_rect(
        fill=color, fillOpacity=0.5, stroke="black", strokeWidth=0.85
    ).encode(
        x=alt.X("x0:Q", scale=xs, axis=xa),
        x2="x1:Q",
        y=alt.Y("d:Q", scale=ys, axis=ya),
        y2=alt.datum(0),
    )
    line = alt.Chart(kdf).mark_line(
        color=color, strokeWidth=4.2, interpolate="monotone", strokeJoin="round"
    ).encode(
        x=alt.X("x:Q", scale=xs, axis=xa),
        y=alt.Y("d:Q", scale=ys, axis=ya),
    )
    return alt.layer(bar, line).properties(width=PLOT_W, height=PLOT_H, title=TITLES[i])


chart = alt.concat(
    *[panel(i) for i in range(24)],
    columns=4,
    spacing={"row": 140, "column": 157},
    bounds="flush",
).properties(
    padding={"left": 14, "top": 9, "right": 8, "bottom": 8}
).configure(
    font="DejaVu Sans"
).configure_view(
    stroke="black", strokeWidth=2.2
).configure_axis(
    domain=False, grid=False,
    labelFont="DejaVu Sans", labelFontSize=27.8, labelColor="black", labelPadding=9.7,
    labelFlush=False, labelOverlap=False,
    tickSize=9.7, tickWidth=2.2, tickColor="black",
    titleFont="DejaVu Sans", titleFontSize=27.8, titleFontWeight="normal",
    titleColor="black", titlePadding=11,
).configure_title(
    font="DejaVu Sans", fontSize=33.3, fontWeight="normal", color="black",
    anchor="middle", frame="group", baseline="alphabetic", offset=11.5,
)

chart.save("out.html", embed_options={"renderer": "svg", "actions": False})
